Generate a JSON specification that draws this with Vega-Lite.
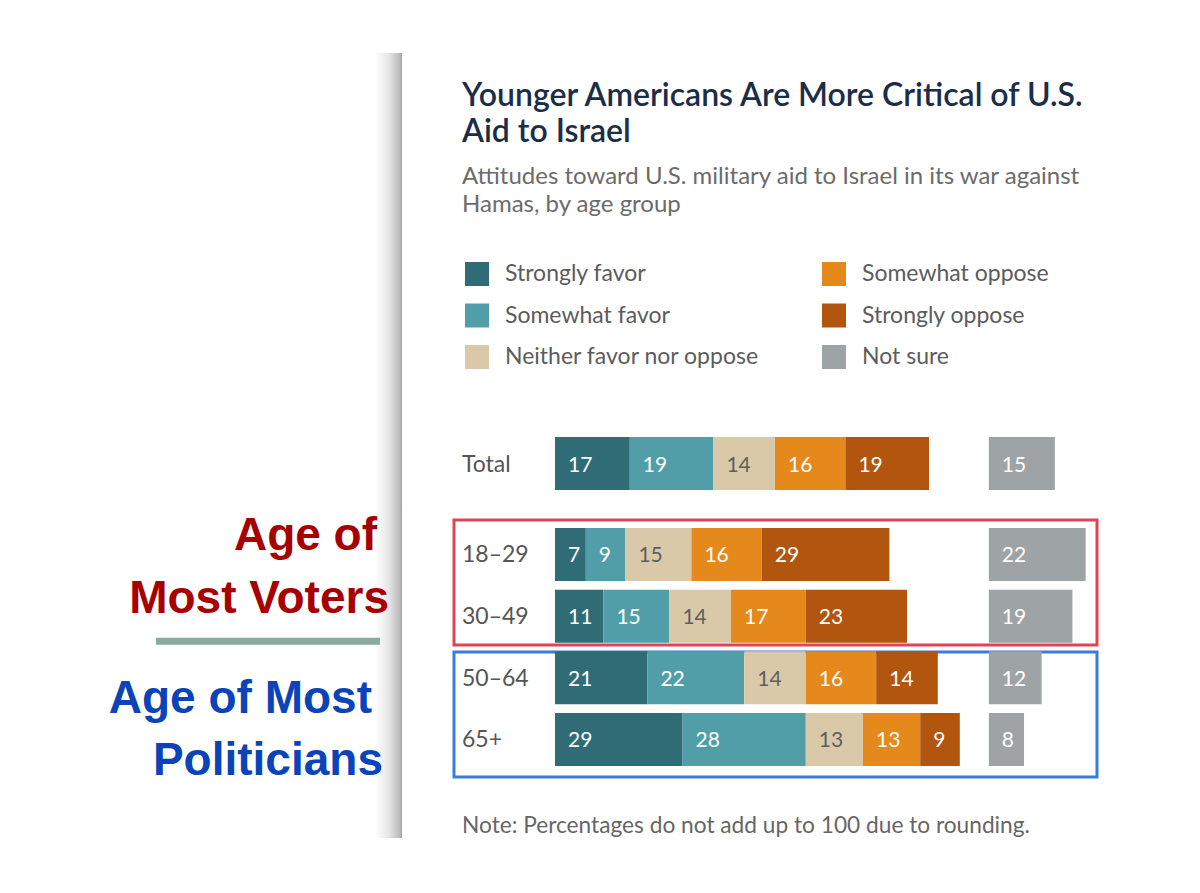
{
  "$schema": "https://vega.github.io/schema/vega-lite/v6.json",
  "width": 1200,
  "height": 668,
  "autosize": {"type": "none"},
  "padding": {"top": 225, "left": 0, "right": 0, "bottom": 0},
  "background": "#ffffff",
  "config": {
    "view": {"stroke": null},
    "axis": {"disable": true},
    "text": {"font": "Lato"}
  },
  "title": {
    "text": ["Younger Americans Are More Critical of U.S.", "Aid to Israel"],
    "subtitle": ["Attitudes toward U.S. military aid to Israel in its war against", "Hamas, by age group"],
    "anchor": "start",
    "frame": "group",
    "dx": 462,
    "dy": 175,
    "offset": 10,
    "font": "Lato",
    "fontSize": 32,
    "fontWeight": 600,
    "color": "#1b2d48",
    "lineHeight": 36,
    "subtitleFont": "Lato",
    "subtitleFontSize": 24,
    "subtitleColor": "#6b6b6b",
    "subtitleLineHeight": 28,
    "subtitlePadding": 16
  },
  "data": {
    "values": [
      {"group": "Total", "response": "Strongly favor", "value": 17},
      {"group": "Total", "response": "Somewhat favor", "value": 19},
      {"group": "Total", "response": "Neither favor nor oppose", "value": 14},
      {"group": "Total", "response": "Somewhat oppose", "value": 16},
      {"group": "Total", "response": "Strongly oppose", "value": 19},
      {"group": "Total", "response": "Not sure", "value": 15},
      {"group": "18–29", "response": "Strongly favor", "value": 7},
      {"group": "18–29", "response": "Somewhat favor", "value": 9},
      {"group": "18–29", "response": "Neither favor nor oppose", "value": 15},
      {"group": "18–29", "response": "Somewhat oppose", "value": 16},
      {"group": "18–29", "response": "Strongly oppose", "value": 29},
      {"group": "18–29", "response": "Not sure", "value": 22},
      {"group": "30–49", "response": "Strongly favor", "value": 11},
      {"group": "30–49", "response": "Somewhat favor", "value": 15},
      {"group": "30–49", "response": "Neither favor nor oppose", "value": 14},
      {"group": "30–49", "response": "Somewhat oppose", "value": 17},
      {"group": "30–49", "response": "Strongly oppose", "value": 23},
      {"group": "30–49", "response": "Not sure", "value": 19},
      {"group": "50–64", "response": "Strongly favor", "value": 21},
      {"group": "50–64", "response": "Somewhat favor", "value": 22},
      {"group": "50–64", "response": "Neither favor nor oppose", "value": 14},
      {"group": "50–64", "response": "Somewhat oppose", "value": 16},
      {"group": "50–64", "response": "Strongly oppose", "value": 14},
      {"group": "50–64", "response": "Not sure", "value": 12},
      {"group": "65+", "response": "Strongly favor", "value": 29},
      {"group": "65+", "response": "Somewhat favor", "value": 28},
      {"group": "65+", "response": "Neither favor nor oppose", "value": 13},
      {"group": "65+", "response": "Somewhat oppose", "value": 13},
      {"group": "65+", "response": "Strongly oppose", "value": 9},
      {"group": "65+", "response": "Not sure", "value": 8}
    ]
  },
  "resolve": {"scale": {"x": "independent"}},
  "layer": [
    {
      "data": {"values": [{}]},
      "mark": {
        "type": "rect",
        "yOffset": -439.8,
        "y2Offset": 98.5,
        "color": {
          "gradient": "linear",
          "x1": 0, "y1": 0, "x2": 1, "y2": 0,
          "stops": [
            {"offset": 0, "color": "#ffffff"},
            {"offset": 0.5, "color": "#e6e6e6"},
            {"offset": 0.9, "color": "#bdbdbd"},
            {"offset": 1, "color": "#a3a3a3"}
          ]
        }
      },
      "encoding": {
        "x": {"datum": -40.909, "type": "quantitative", "scale": {"domain": [-126.136, 146.591], "nice": false, "zero": false}, "axis": null},
        "x2": {"datum": -34.773},
        "y": {"datum": "Total", "type": "nominal"},
        "y2": {"datum": "65+"}
      }
    },
    {
      "data": {"values": [{}]},
      "mark": {"type": "rect", "fillOpacity": 0, "stroke": "#df435a", "strokeWidth": 3, "yOffset": -34.5, "y2Offset": 28.8},
      "encoding": {
        "x": {"datum": -22.955, "type": "quantitative", "scale": {"domain": [-126.136, 146.591], "nice": false, "zero": false}, "axis": null},
        "x2": {"datum": 123.182},
        "y": {"datum": "18–29", "type": "nominal"},
        "y2": {"datum": "30–49"}
      }
    },
    {
      "data": {"values": [{}]},
      "mark": {"type": "rect", "fillOpacity": 0, "stroke": "#3a7dd8", "strokeWidth": 3, "yOffset": -25.8, "y2Offset": 37.5},
      "encoding": {
        "x": {"datum": -22.955, "type": "quantitative", "scale": {"domain": [-126.136, 146.591], "nice": false, "zero": false}, "axis": null},
        "x2": {"datum": 123.182},
        "y": {"datum": "50–64", "type": "nominal"},
        "y2": {"datum": "65+"}
      }
    },
    {
      "transform": [
        {"filter": "datum.response !== 'Not sure'"},
        {"stack": "value", "groupby": ["group"], "as": ["x0", "x1"]}
      ],
      "layer": [
        {
          "mark": {"type": "bar", "yOffset": {"expr": "datum.group === 'Total' ? -29.33 : 0"}},
          "encoding": {
            "x": {"field": "x0", "type": "quantitative", "scale": {"domain": [-126.136, 146.591], "nice": false, "zero": false}, "axis": null},
            "x2": {"field": "x1"},
            "y": {
              "field": "group", "type": "nominal", "axis": null,
              "scale": {"domain": ["Total", "18–29", "30–49", "50–64", "65+"], "range": [237, 545.33], "paddingInner": 0.1405, "paddingOuter": 0.07025}
            },
            "color": {
              "field": "response", "type": "nominal",
              "scale": {
                "domain": ["Strongly favor", "Somewhat favor", "Neither favor nor oppose", "Somewhat oppose", "Strongly oppose", "Not sure"],
                "range": ["#2f6c76", "#529ea8", "#dac9a8", "#e5891d", "#b1550f", "#9ea3a5"]
              },
              "legend": {
                "orient": "none",
                "legendX": 465,
                "legendY": 37,
                "title": null,
                "columns": 2,
                "columnPadding": 62,
                "rowPadding": 17.5,
                "padding": 0,
                "symbolType": "square",
                "symbolSize": 576,
                "symbolStrokeWidth": 0,
                "symbolOpacity": 1,
                "labelFont": "Lato",
                "labelFontSize": 23,
                "labelColor": "#5c5c5c",
                "labelOffset": 16,
                "labelLimit": 400
              }
            }
          }
        },
        {
          "mark": {"type": "text", "align": "left", "baseline": "middle", "dx": 13, "dy": 2, "fontSize": 21, "font": "Lato", "yOffset": {"expr": "datum.group === 'Total' ? -29.33 : 0"}},
          "encoding": {
            "x": {"field": "x0", "type": "quantitative"},
            "y": {"field": "group", "type": "nominal"},
            "text": {"field": "value", "type": "quantitative"},
            "color": {"condition": {"test": "datum.response === 'Neither favor nor oppose'", "value": "#5e5e5e"}, "value": "#ffffff"}
          }
        }
      ]
    },
    {
      "transform": [{"filter": "datum.response === 'Not sure'"}],
      "layer": [
        {
          "mark": {"type": "bar", "yOffset": {"expr": "datum.group === 'Total' ? -29.33 : 0"}},
          "encoding": {
            "x": {"field": "value", "type": "quantitative", "scale": {"domain": [-224.736, 47.991], "nice": false, "zero": false}, "axis": null},
            "x2": {"datum": 0},
            "y": {"field": "group", "type": "nominal"},
            "color": {"field": "response", "type": "nominal"}
          }
        },
        {
          "mark": {"type": "text", "align": "left", "baseline": "middle", "dx": 13, "dy": 2, "fontSize": 21, "font": "Lato", "color": "#ffffff", "yOffset": {"expr": "datum.group === 'Total' ? -29.33 : 0"}},
          "encoding": {
            "x": {"datum": 0, "type": "quantitative"},
            "y": {"field": "group", "type": "nominal"},
            "text": {"field": "value", "type": "quantitative"}
          }
        }
      ]
    },
    {
      "transform": [{"filter": "datum.response === 'Strongly favor'"}],
      "mark": {"type": "text", "align": "left", "baseline": "middle", "dy": 1, "fontSize": 23, "font": "Lato", "color": "#555555", "yOffset": {"expr": "datum.group === 'Total' ? -29.33 : 0"}},
      "encoding": {
        "x": {"datum": -21.136, "type": "quantitative", "scale": {"domain": [-126.136, 146.591], "nice": false, "zero": false}, "axis": null},
        "y": {"field": "group", "type": "nominal"},
        "text": {"field": "group", "type": "nominal"}
      }
    },
    {
      "data": {"values": [{}]},
      "mark": {"type": "text", "text": "Age of", "align": "right", "baseline": "alphabetic", "dy": -4.5, "font": "Liberation Sans", "fontWeight": "bold", "fontSize": 46, "color": "#a60000"},
      "encoding": {
        "x": {"datum": -40.45, "type": "quantitative", "scale": {"domain": [-126.136, 146.591], "nice": false, "zero": false}, "axis": null},
        "y": {"datum": "18–29", "type": "nominal"}
      }
    },
    {
      "data": {"values": [{}]},
      "mark": {"type": "text", "text": "Most Voters", "align": "right", "baseline": "alphabetic", "dy": -3, "font": "Liberation Sans", "fontWeight": "bold", "fontSize": 46, "color": "#a60000"},
      "encoding": {
        "x": {"datum": -37.73, "type": "quantitative", "scale": {"domain": [-126.136, 146.591], "nice": false, "zero": false}, "axis": null},
        "y": {"datum": "30–49", "type": "nominal"}
      }
    },
    {
      "data": {"values": [{}]},
      "mark": {"type": "rule", "color": "#8aab9f", "strokeWidth": 7, "yOffset": 25},
      "encoding": {
        "x": {"datum": -90.68, "type": "quantitative", "scale": {"domain": [-126.136, 146.591], "nice": false, "zero": false}, "axis": null},
        "x2": {"datum": -39.77},
        "y": {"datum": "30–49", "type": "nominal"}
      }
    },
    {
      "data": {"values": [{}]},
      "mark": {"type": "text", "text": "Age of Most", "align": "right", "baseline": "alphabetic", "dy": 35, "font": "Liberation Sans", "fontWeight": "bold", "fontSize": 46, "color": "#0b43b8"},
      "encoding": {
        "x": {"datum": -41.59, "type": "quantitative", "scale": {"domain": [-126.136, 146.591], "nice": false, "zero": false}, "axis": null},
        "y": {"datum": "50–64", "type": "nominal"}
      }
    },
    {
      "data": {"values": [{}]},
      "mark": {"type": "text", "text": "Politicians", "align": "right", "baseline": "alphabetic", "dy": 35.5, "font": "Liberation Sans", "fontWeight": "bold", "fontSize": 46, "color": "#0b43b8"},
      "encoding": {
        "x": {"datum": -39.09, "type": "quantitative", "scale": {"domain": [-126.136, 146.591], "nice": false, "zero": false}, "axis": null},
        "y": {"datum": "65+", "type": "nominal"}
      }
    },
    {
      "data": {"values": [{}]},
      "mark": {"type": "text", "text": "Note: Percentages do not add up to 100 due to rounding.", "align": "left", "baseline": "middle", "dy": 86.5, "font": "Lato", "fontSize": 22.7, "color": "#666666"},
      "encoding": {
        "x": {"datum": -21.136, "type": "quantitative", "scale": {"domain": [-126.136, 146.591], "nice": false, "zero": false}, "axis": null},
        "y": {"datum": "65+", "type": "nominal"}
      }
    }
  ]
}
